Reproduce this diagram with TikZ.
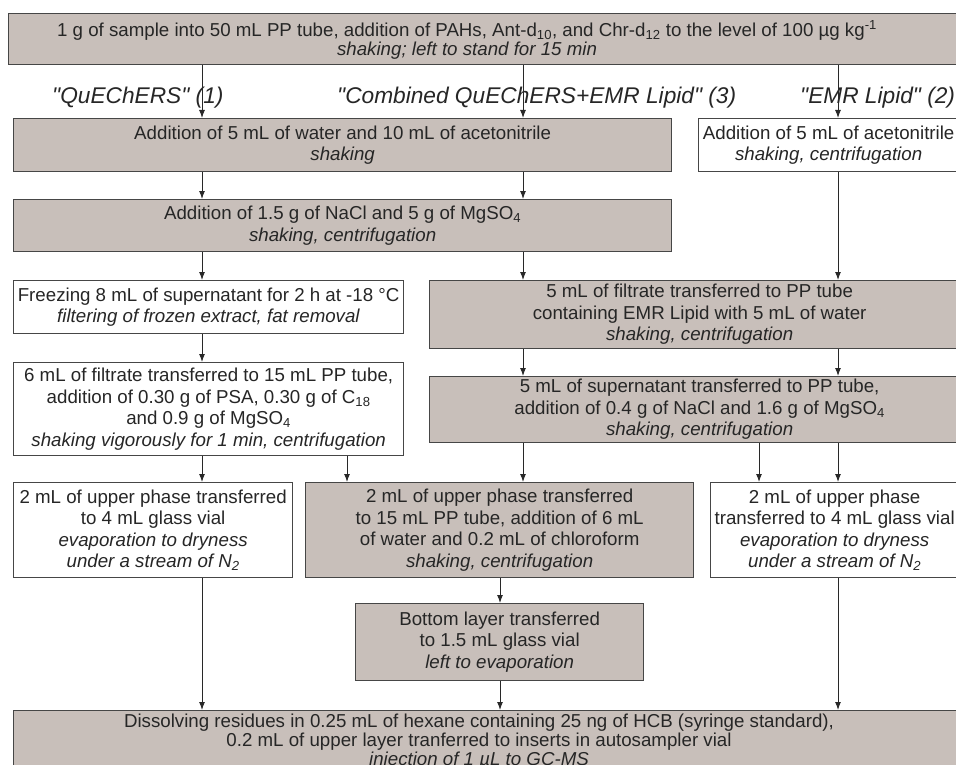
\documentclass[tikz,border=0pt]{standalone}
\usepackage{fontspec}
\setmainfont{Liberation Sans}
\usetikzlibrary{arrows.meta}

\definecolor{boxfill}{RGB}{200,191,186}
\definecolor{boxline}{RGB}{70,70,70}
\definecolor{arrline}{RGB}{40,40,40}

\tikzset{
  stepbox/.style={draw=boxline, line width=1.3pt, align=center, anchor=north west,
    inner sep=0pt, text=black!85, font=\fontsize{18.7}{21.5}\selectfont},
  graystep/.style={stepbox, fill=boxfill},
  whitestep/.style={stepbox, fill=white},
  plaintext/.style={align=center, inner sep=0pt, text=black!85,
    font=\fontsize{18.7}{19}\selectfont},
  route/.style={anchor=base west, inner sep=0pt, text=black!85,
    font=\fontsize{22.7}{26}\selectfont\itshape},
  flow/.style={draw=arrline, line width=1pt, -{Latex[length=8pt,width=6pt]}}
}
\newcommand{\qt}{\textquotedbl}

\begin{document}
\begin{tikzpicture}[x=1pt,y=-1pt]
  \useasboundingbox (0,0) rectangle (956,765);

  % columns of the arrows
  \coordinate (colq) at (202,0);
  \coordinate (coldsp) at (347,0);
  \coordinate (colbot) at (500,0);
  \coordinate (colc) at (523,0);
  \coordinate (colvial) at (759,0);
  \coordinate (cole) at (838,0);

  % sample
  \node[graystep, minimum width=965, minimum height=51] (sample) at (8,13) {};
  \node[plaintext] (sampletext) at (467,40) {1 g of sample into 50 mL PP tube, addition of PAHs, Ant-d\textsubscript{10}, and Chr-d\textsubscript{12} to the level of 100 µg kg\textsuperscript{-1}\\
    \textit{shaking; left to stand for 15 min}};

  % the three routes
  \node[route] (quech) at (52,104) {\qt QuEChERS\qt{} (1)};
  \node[route] (comb) at (337,104) {\qt Combined QuEChERS+EMR Lipid\qt{} (3)};
  \node[route] (emr) at (800,104) {\qt EMR Lipid\qt{} (2)};

  \node[graystep, minimum width=658, minimum height=53] (water) at (13,118)
    {Addition of 5 mL of water and 10 mL of acetonitrile\\ \textit{shaking}};
  \node[whitestep, minimum width=260, minimum height=53] (acn) at (698,118)
    {Addition of 5 mL of acetonitrile\\ \textit{shaking, centrifugation}};
  \node[graystep, minimum width=658, minimum height=52] (salt) at (13,199)
    {Addition of 1.5 g of NaCl and 5 g of MgSO\textsubscript{4}\\ \textit{shaking, centrifugation}};
  \node[whitestep, minimum width=390, minimum height=53] (freeze) at (13,280)
    {Freezing 8 mL of supernatant for 2 h at -18 °C\\ \textit{filtering of frozen extract, fat removal}};
  \node[graystep, minimum width=540, minimum height=68] (emrtube) at (429,280)
    {5 mL of filtrate transferred to PP tube\\ containing EMR Lipid with 5 mL of water\\ \textit{shaking, centrifugation}};
  \node[whitestep, minimum width=390, minimum height=93] (dspe) at (13,362)
    {6 mL of filtrate transferred to 15 mL PP tube,\\ addition of 0.30 g of PSA, 0.30 g of C\textsubscript{18}\\ and 0.9 g of MgSO\textsubscript{4}\\ \textit{shaking vigorously for 1 min, centrifugation}};
  \node[graystep, minimum width=540, minimum height=66] (polish) at (429,376)
    {5 mL of supernatant transferred to PP tube,\\ addition of 0.4 g of NaCl and 1.6 g of MgSO\textsubscript{4}\\ \textit{shaking, centrifugation}};

  \node[whitestep, minimum width=279, minimum height=95] (vialq) at (13,482)
    {2 mL of upper phase transferred\\ to 4 mL glass vial\\ \textit{evaporation to dryness}\\ \textit{under a stream of N\textsubscript{2}}};
  \node[graystep, minimum width=388, minimum height=95] (chloro) at (305,482)
    {2 mL of upper phase transferred\\ to 15 mL PP tube, addition of 6 mL\\ of water and 0.2 mL of chloroform\\ \textit{shaking, centrifugation}};
  \node[whitestep, minimum width=248, minimum height=95] (viale) at (710,482)
    {2 mL of upper phase\\ transferred to 4 mL glass vial\\ \textit{evaporation to dryness}\\ \textit{under a stream of N\textsubscript{2}}};
  \node[graystep, minimum width=288, minimum height=77] (bottom) at (355,603)
    {Bottom layer transferred\\ to 1.5 mL glass vial\\ \textit{left to evaporation}};

  % final step
  \node[graystep, minimum width=960, minimum height=75] (final) at (13,710) {};
  \node[plaintext] (finaltext) at (479,742) {Dissolving residues in 0.25 mL of hexane containing 25 ng of HCB (syringe standard),\\
    0.2 mL of upper layer tranferred to inserts in autosampler vial\\
    \textit{injection of 1 µL to GC-MS}};

  % arrows
  \draw[flow] (sample.south -| colq) -- (water.north -| colq);
  \draw[flow] (sample.south -| colc) -- (water.north -| colc);
  \draw[flow] (sample.south -| cole) -- (acn.north -| cole);
  \draw[flow] (water.south -| colq) -- (salt.north -| colq);
  \draw[flow] (water.south -| colc) -- (salt.north -| colc);
  \draw[flow] (salt.south -| colq) -- (freeze.north -| colq);
  \draw[flow] (salt.south -| colc) -- (emrtube.north -| colc);
  \draw[flow] (acn.south -| cole) -- (emrtube.north -| cole);
  \draw[flow] (freeze.south -| colq) -- (dspe.north -| colq);
  \draw[flow] (emrtube.south -| colc) -- (polish.north -| colc);
  \draw[flow] (emrtube.south -| cole) -- (polish.north -| cole);
  \draw[flow] (dspe.south -| colq) -- (vialq.north -| colq);
  \draw[flow] (dspe.south -| coldsp) -- (chloro.north -| coldsp);
  \draw[flow] (polish.south -| colc) -- (chloro.north -| colc);
  \draw[flow] (polish.south -| colvial) -- (viale.north -| colvial);
  \draw[flow] (polish.south -| cole) -- (viale.north -| cole);
  \draw[flow] (chloro.south -| colbot) -- (bottom.north -| colbot);
  \draw[flow] (vialq.south -| colq) -- (final.north -| colq);
  \draw[flow] (bottom.south -| colbot) -- (final.north -| colbot);
  \draw[flow] (viale.south -| cole) -- (final.north -| cole);
\end{tikzpicture}
\end{document}
